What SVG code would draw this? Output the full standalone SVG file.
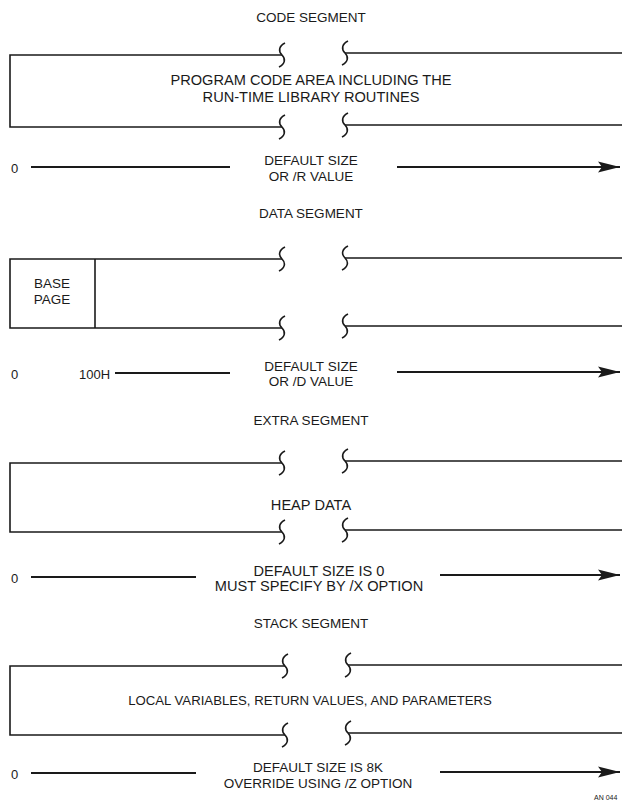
<svg xmlns="http://www.w3.org/2000/svg" xmlns:xlink="http://www.w3.org/1999/xlink" width="622" height="803" viewBox="0 0 622 803">
<style>
text{font-family:"Liberation Sans",Arial,sans-serif;fill:#1a1a1a;font-size:13px;text-anchor:middle}
.t{font-size:13.5px}
.w{font-size:14.6px}
.ln{stroke:#1a1a1a;stroke-width:1.6;fill:none}
.dim{stroke:#1a1a1a;stroke-width:1.8;fill:none}
.sq{stroke:#1a1a1a;stroke-width:1.6;fill:none}
.lbl{text-anchor:start}
.an{font-size:7px;text-anchor:start}
</style>
<defs>
<path id="sq" class="sq" d="M3,-12 C-3,-9 -4,-4 0,0 C4,4 3,9 -3,12"/>
<marker id="ah" markerWidth="24" markerHeight="14" refX="22" refY="7" orient="auto" markerUnits="userSpaceOnUse">
<path d="M0,1.5 L22,7 L0,12.5 L4,7 Z" fill="#1a1a1a"/>
</marker>
</defs>
<rect width="622" height="803" fill="#fff"/>

<g id="code-segment">
<text class="t" x="311" y="22">CODE SEGMENT</text>
<path class="ln" d="M282,55 H10 V127 H282"/>
<path class="ln" d="M345,53 H622 M345,125 H622"/>
<use xlink:href="#sq" x="282" y="55"/>
<use xlink:href="#sq" x="345" y="53"/>
<use xlink:href="#sq" x="282" y="127"/>
<use xlink:href="#sq" x="345" y="125"/>
<text class="w" x="311" y="85">PROGRAM CODE AREA INCLUDING THE</text>
<text class="w" x="311" y="102">RUN-TIME LIBRARY ROUTINES</text>
</g>
<g id="code-size">
<text class="lbl" x="11" y="173">0</text>
<text class="t" x="311" y="165">DEFAULT SIZE</text>
<text class="t" x="311" y="181">OR /R VALUE</text>
</g>

<g id="data-segment">
<text class="t" x="311" y="218">DATA SEGMENT</text>
<path class="ln" d="M282,259 H10 V328 H282"/>
<path class="ln" d="M345,258 H622 M345,326 H622"/>
<use xlink:href="#sq" x="282" y="259"/>
<use xlink:href="#sq" x="345" y="258"/>
<use xlink:href="#sq" x="282" y="328"/>
<use xlink:href="#sq" x="345" y="326"/>
</g>
<g id="base-page">
<path class="ln" d="M95,259 V328"/>
<text class="t" x="52" y="288">BASE</text>
<text class="t" x="52" y="304">PAGE</text>
</g>
<g id="data-size">
<text class="lbl" x="11" y="379">0</text>
<text class="lbl" x="79" y="379">100H</text>
<text class="t" x="311" y="371">DEFAULT SIZE</text>
<text class="t" x="311" y="386">OR /D VALUE</text>
</g>

<g id="extra-segment">
<text class="t" x="311" y="425">EXTRA SEGMENT</text>
<path class="ln" d="M282,463 H10 V532 H282"/>
<path class="ln" d="M345,461 H622 M345,530 H622"/>
<use xlink:href="#sq" x="282" y="463"/>
<use xlink:href="#sq" x="345" y="461"/>
<use xlink:href="#sq" x="282" y="532"/>
<use xlink:href="#sq" x="345" y="530"/>
<text class="w" x="311" y="510">HEAP DATA</text>
</g>
<g id="extra-size">
<text class="lbl" x="11" y="583">0</text>
<text class="w" x="319" y="576">DEFAULT SIZE IS 0</text>
<text class="w" x="319" y="591">MUST SPECIFY BY /X OPTION</text>
</g>

<g id="stack-segment">
<text class="t" x="311" y="628">STACK SEGMENT</text>
<path class="ln" d="M285,666 H10 V735 H285"/>
<path class="ln" d="M348,665 H622 M348,733 H622"/>
<use xlink:href="#sq" x="285" y="666"/>
<use xlink:href="#sq" x="348" y="665"/>
<use xlink:href="#sq" x="285" y="735"/>
<use xlink:href="#sq" x="348" y="733"/>
<text x="310" y="705" style="font-size:13.2px">LOCAL VARIABLES, RETURN VALUES, AND PARAMETERS</text>
</g>
<g id="stack-size">
<text class="lbl" x="11" y="779">0</text>
<text class="t" x="318" y="772">DEFAULT SIZE IS 8K</text>
<text class="t" x="318" y="788">OVERRIDE USING /Z OPTION</text>
<text class="an" x="594" y="800">AN 044</text>
</g>

<g id="connectors">
<path class="dim" d="M31,167 H230"/>
<path class="dim" d="M397,167 H620" marker-end="url(#ah)"/>
<path class="dim" d="M115,373 H230"/>
<path class="dim" d="M397,372 H620" marker-end="url(#ah)"/>
<path class="dim" d="M31,577 H196"/>
<path class="dim" d="M440,575 H620" marker-end="url(#ah)"/>
<path class="dim" d="M31,773 H196"/>
<path class="dim" d="M440,772 H620" marker-end="url(#ah)"/>
</g>
</svg>
